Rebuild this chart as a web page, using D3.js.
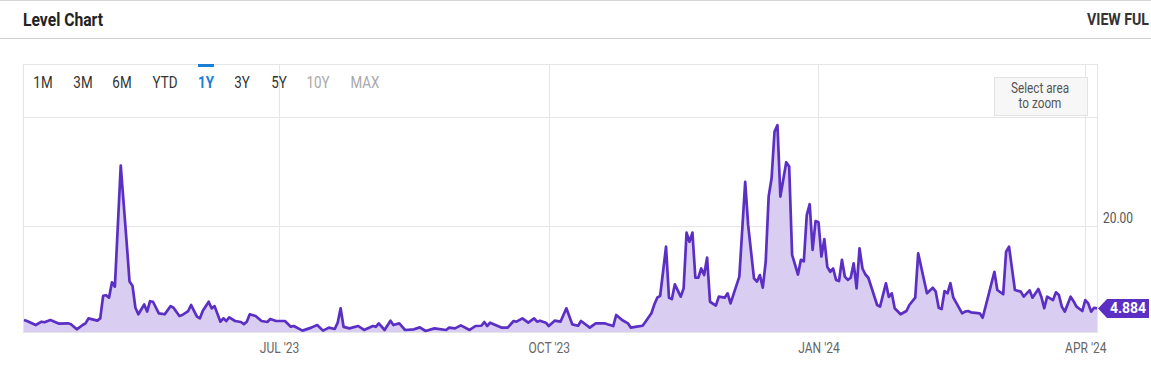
<!DOCTYPE html>
<html>
<head>
<meta charset="utf-8">
<script src="https://cdn.jsdelivr.net/npm/d3@7"></script>
<style>
body{margin:0;background:#fff;}
svg{display:block;font-family:Roboto,"Noto Sans",sans-serif;}
</style>
</head>
<body>
<svg id="chart" width="1151" height="367"></svg>
<script>
const dates = [
"2023-04-05","2023-04-06","2023-04-09","2023-04-11","2023-04-12","2023-04-14","2023-04-17","2023-04-20","2023-04-21","2023-04-23",
"2023-04-25","2023-04-26","2023-04-27","2023-04-30","2023-05-01","2023-05-02","2023-05-03","2023-05-04","2023-05-05","2023-05-06",
"2023-05-08","2023-05-10","2023-05-11","2023-05-12","2023-05-13","2023-05-14","2023-05-16","2023-05-17","2023-05-18","2023-05-19",
"2023-05-21","2023-05-23","2023-05-25","2023-05-26","2023-05-28","2023-05-29","2023-05-31","2023-06-01","2023-06-03","2023-06-04",
"2023-06-05","2023-06-07","2023-06-08","2023-06-09","2023-06-11","2023-06-12","2023-06-13","2023-06-14","2023-06-16","2023-06-18",
"2023-06-19","2023-06-20","2023-06-21","2023-06-23","2023-06-25","2023-06-27","2023-06-28","2023-06-30","2023-07-03","2023-07-05",
"2023-07-06","2023-07-09","2023-07-12","2023-07-14","2023-07-16","2023-07-18","2023-07-20","2023-07-21","2023-07-22","2023-07-23",
"2023-07-25","2023-07-28","2023-07-30","2023-08-02","2023-08-03","2023-08-04","2023-08-06","2023-08-08","2023-08-09","2023-08-11",
"2023-08-13","2023-08-16","2023-08-18","2023-08-20","2023-08-23","2023-08-27","2023-08-28","2023-08-30","2023-09-01","2023-09-04",
"2023-09-06","2023-09-08","2023-09-09","2023-09-10","2023-09-11","2023-09-15","2023-09-17","2023-09-19","2023-09-20","2023-09-22",
"2023-09-24","2023-09-26","2023-09-27","2023-09-28","2023-09-30","2023-10-01","2023-10-03","2023-10-05","2023-10-07","2023-10-09",
"2023-10-11","2023-10-12","2023-10-15","2023-10-17","2023-10-20","2023-10-21","2023-10-23","2023-10-24","2023-10-26","2023-10-28",
"2023-10-29","2023-10-31","2023-11-02","2023-11-03","2023-11-05","2023-11-06","2023-11-07","2023-11-08","2023-11-10","2023-11-11",
"2023-11-12","2023-11-13","2023-11-15","2023-11-16","2023-11-17","2023-11-18","2023-11-19","2023-11-20","2023-11-21","2023-11-22",
"2023-11-23","2023-11-24","2023-11-25","2023-11-27","2023-11-28","2023-11-30","2023-12-01","2023-12-02","2023-12-05","2023-12-07",
"2023-12-08","2023-12-10","2023-12-11","2023-12-12","2023-12-13","2023-12-14","2023-12-15","2023-12-16","2023-12-17","2023-12-18",
"2023-12-19","2023-12-21","2023-12-22","2023-12-23","2023-12-25","2023-12-26","2023-12-27","2023-12-28","2023-12-29","2023-12-30",
"2023-12-31","2024-01-01","2024-01-02","2024-01-03","2024-01-04","2024-01-05","2024-01-06","2024-01-07","2024-01-08","2024-01-09",
"2024-01-10","2024-01-11","2024-01-12","2024-01-13","2024-01-14","2024-01-15","2024-01-16","2024-01-17","2024-01-18","2024-01-21",
"2024-01-22","2024-01-24","2024-01-25","2024-01-26","2024-01-27","2024-01-29","2024-01-31","2024-02-01","2024-02-03","2024-02-04",
"2024-02-06","2024-02-07","2024-02-09","2024-02-10","2024-02-11","2024-02-12","2024-02-13","2024-02-14","2024-02-15","2024-02-16",
"2024-02-19","2024-02-20","2024-02-21","2024-02-22","2024-02-25","2024-02-26","2024-02-28","2024-03-01","2024-03-02","2024-03-04",
"2024-03-05","2024-03-06","2024-03-08","2024-03-10","2024-03-11","2024-03-13","2024-03-14","2024-03-16","2024-03-17","2024-03-18",
"2024-03-19","2024-03-21","2024-03-22","2024-03-23","2024-03-24","2024-03-25","2024-03-27","2024-03-28","2024-03-29","2024-03-31",
"2024-04-01","2024-04-02","2024-04-03","2024-04-04","2024-04-05"
];
const levels = [
2.75,2.57,1.83,2.44,2.33,2.75,2.07,2.14,1.96,1.04,
1.83,2.14,3.06,2.63,3.06,7.2,7.3,6.85,9.66,8.87,
31.07,17.1,9.8,9.05,5.0,3.8,5.6,4.3,6.2,6.1,
3.98,3.8,5.3,5.0,3.5,3.67,4.4,5.5,3.36,3.06,
4.46,6.1,4.9,5.3,2.44,3.06,2.57,3.24,2.57,2.39,
2.0,2.44,3.8,3.49,2.57,2.39,2.94,2.57,2.57,1.53,
1.65,0.8,1.35,1.83,0.8,1.35,1.1,2.26,4.9,1.5,
1.22,1.65,0.92,1.65,1.5,2.14,0.92,2.63,1.83,2.14,
0.92,1.04,1.4,0.73,1.22,0.92,1.35,1.22,1.77,0.92,
1.65,1.7,2.39,1.65,2.26,1.35,1.35,2.57,2.44,3.06,
2.26,3.06,2.44,2.63,2.26,1.65,2.63,2.44,4.9,1.96,
1.7,2.57,1.35,2.14,2.14,1.96,1.65,3.67,2.75,2.14,
1.35,1.53,1.7,2.44,3.98,5.6,6.85,7.2,16.2,6.85,
6.6,9.3,7.03,8.56,18.8,17.1,18.8,10.5,10.5,12.2,
11.0,14.2,6.1,5.4,7.03,6.85,7.65,5.8,10.7,28.1,
20.2,10.4,9.8,11.0,8.68,13.45,25.4,28.75,37.3,38.5,
25.4,31.7,30.9,14.7,11.1,13.8,13.5,22.0,24.0,15.6,
20.9,20.7,14.4,17.6,12.5,11.6,12.2,10.1,9.9,13.8,
10.7,10.1,10.5,13.15,8.56,15.9,12.2,11.1,10.5,5.5,
5.2,9.5,7.0,7.65,4.9,3.8,4.4,5.5,6.85,15.0,
10.1,7.65,8.68,7.95,5.0,4.77,8.07,7.65,9.5,6.85,
3.98,4.28,4.4,4.16,3.98,3.17,7.34,11.6,8.26,7.47,
15.3,16.2,8.26,7.95,7.03,8.2,6.85,8.44,7.03,4.9,
7.03,6.4,7.83,7.34,5.2,4.28,7.03,6.2,5.2,4.4,
6.4,5.8,4.28,5.0,4.884
];
const rangeButtons = ["1M","3M","6M","YTD","1Y","3Y","5Y","10Y","MAX"];
const activeButton = "1Y";
const disabledButtons = ["10Y","MAX"];
const xTickDates = ["2023-07-01","2023-10-01","2024-01-01","2024-04-01"];
const yTicks = [20, 40];
const yLabels = [20];

const svg = d3.select("#chart");
const parse = d3.timeParse("%Y-%m-%d");
const data = dates.map((d,i)=>({date:parse(d), v:levels[i]}));

const L=24, R=1097, T=117, B=332, BOXTOP=64;
const x = d3.scaleTime().domain(d3.extent(data,d=>d.date)).range([L,R]);
const y = d3.scaleLinear().domain([0.55,40]).range([B,T]);

// header
svg.append("line").attr("x1",0).attr("x2",1151).attr("y1",0.5).attr("y2",0.5).attr("stroke","#d6d6d6");
svg.append("line").attr("x1",0).attr("x2",1151).attr("y1",38.5).attr("y2",38.5).attr("stroke","#cfcfcf");
svg.append("text").attr("x",23).attr("y",26).text("Level Chart")
  .attr("font-size",18).attr("font-weight",700).attr("fill","#222")
  .attr("textLength",80).attr("lengthAdjust","spacingAndGlyphs");
svg.append("text").attr("x",1087).attr("y",25).text("VIEW FUL")
  .attr("font-size",16).attr("font-weight",700).attr("fill","#333")
  .attr("textLength",62).attr("lengthAdjust","spacingAndGlyphs");

// chart box + grid
svg.append("rect").attr("x",23.5).attr("y",BOXTOP+0.5).attr("width",R-23).attr("height",B-BOXTOP)
  .attr("fill","none").attr("stroke","#e6e6e6");

svg.append("g").selectAll("line").data(yTicks).join("line")
  .attr("x1",L).attr("x2",R).attr("y1",d=>Math.round(y(d))+0.5).attr("y2",d=>Math.round(y(d))+0.5)
  .attr("stroke","#e6e6e6");
svg.append("g").selectAll("line").data(xTickDates.map(parse)).join("line")
  .attr("x1",d=>Math.round(x(d))+0.5).attr("x2",d=>Math.round(x(d))+0.5)
  .attr("y1",BOXTOP).attr("y2",B).attr("stroke","#e6e6e6");

// series
svg.append("path").datum(data)
  .attr("fill","#d9cef1")
  .attr("d",d3.area().x(d=>x(d.date)).y0(B).y1(d=>y(d.v)));
svg.append("path").datum(data)
  .attr("fill","none").attr("stroke","#5b2fc4").attr("stroke-width",2.7)
  .attr("stroke-linejoin","round")
  .attr("d",d3.line().x(d=>x(d.date)).y(d=>y(d.v)));

// x axis
const xAxis = svg.append("g").attr("transform",`translate(0,${B})`)
  .call(d3.axisBottom(x).tickValues(xTickDates.map(parse)).tickSize(0).tickPadding(11)
    .tickFormat(d=>d3.timeFormat("%b '%y")(d).toUpperCase()));
xAxis.select(".domain").remove();
xAxis.selectAll("text").attr("font-size",14).attr("fill","#666")
  .attr("font-family","Roboto").attr("transform","scale(0.86,1)");

// y labels
svg.append("g").selectAll("text").data(yLabels).join("text")
  .attr("x",1103).attr("y",d=>y(d)-3).text(d=>d3.format(".2f")(d))
  .attr("font-size",14).attr("fill","#555")
  .attr("textLength",30).attr("lengthAdjust","spacingAndGlyphs");

// range buttons
const btnX = [43,83,122,165,206,242,279,318,365];
const btn = svg.append("g").selectAll("g").data(rangeButtons).join("g")
  .attr("transform",(d,i)=>`translate(${btnX[i]},88)`);
btn.append("text").text(d=>d).attr("text-anchor","middle")
  .attr("font-size",16).attr("transform","scale(0.84,1)")
  .attr("font-weight",d=>d===activeButton?700:400)
  .attr("fill",d=>d===activeButton?"#1a7fd6":disabledButtons.includes(d)?"#a8a8a8":"#333");
svg.append("rect").attr("x",198).attr("y",64).attr("width",16).attr("height",3).attr("fill","#1a7fd6");

// zoom hint
svg.append("rect").attr("x",994.5).attr("y",77.5).attr("width",93).attr("height",38)
  .attr("fill","#f7f7f7").attr("stroke","#e2e2e2");
const hint = svg.append("g").attr("transform","translate(1040,0)");
hint.append("text").attr("y",93.5).text("Select area").attr("text-anchor","middle")
  .attr("font-size",14).attr("fill","#555").attr("transform","scale(0.84,1)");
hint.append("text").attr("y",108.5).text("to zoom").attr("text-anchor","middle")
  .attr("font-size",14).attr("fill","#555").attr("transform","scale(0.84,1)");

// last value tag
const last = data[data.length-1];
const ty = y(last.v);
svg.append("path")
  .attr("d",`M${R+1},${ty} L${R+10},${ty-9.5} L1149,${ty-9.5} L1149,${ty+9.5} L${R+10},${ty+9.5} Z`)
  .attr("fill","#5b2fc4");
svg.append("text").attr("x",1128).attr("y",ty+5).attr("text-anchor","middle")
  .text(d3.format(".3f")(last.v)).attr("font-size",14).attr("font-weight",700).attr("fill","#fff");
</script>
</body>
</html>
